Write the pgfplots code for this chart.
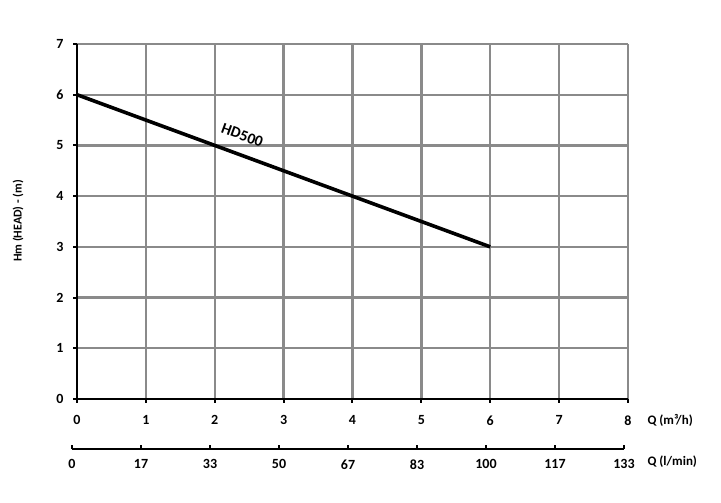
\documentclass[border=0pt]{standalone}
\usepackage{pgfplots}
\pgfplotsset{compat=1.18}
\usepackage{fontspec}
\setmainfont{Carlito}
\definecolor{gridgray}{HTML}{8A8A8A}
\begin{document}
\begin{tikzpicture}[x=1pt,y=1pt]
\path[use as bounding box] (0,0) rectangle (721,503);
\begin{axis}[
  at={(77pt,104pt)}, anchor=south west,
  width=551pt, height=355pt, scale only axis,
  xmin=0, xmax=8, ymin=0, ymax=7,
  xtick={0,...,8}, ytick={0,...,7},
  axis lines=left, axis line style={-, black, line width=2.4pt},
  grid=major, grid style={gridgray, line width=2.4pt},
  tick align=outside, major tick length=4pt,
  tick style={black, line width=2pt},
  /pgf/number format/assume math mode=true,
  ticklabel style={font=\fontsize{14}{16}\selectfont\bfseries},
  xticklabel style={yshift=-9pt},
  yticklabel style={xshift=-6pt},
  xlabel={Q (m³/h)},
  xlabel style={at={(rel axis cs:1,0)}, anchor=west, xshift=16pt, yshift=-21pt, font=\fontsize{13}{15}\selectfont\bfseries},
  clip=false,
]
\addplot[black, line width=3.6pt] coordinates {(0,6) (6,3)};
\node[rotate=-20, font=\fontsize{15.5}{17}\selectfont\bfseries] at (axis cs:2.4,5.2) {HD500};
\end{axis}
\node[rotate=90, font=\fontsize{12}{14}\selectfont\bfseries] at (18,282) {Hm (HEAD) - (m)};
\begin{axis}[
  at={(72pt,54pt)}, anchor=south west,
  width=552pt, height=20pt, scale only axis,
  xmin=0, xmax=133.333, ymin=0, ymax=1,
  axis x line=bottom, axis y line=none,
  axis line style={-, black, line width=2.4pt},
  xtick={0,16.667,33.333,50,66.667,83.333,100,116.667,133.333},
  xticklabels={0,17,33,50,67,83,100,117,133},
  tick align=inside, major tick length=4pt,
  tick style={black, line width=2pt},
  ticklabel style={font=\fontsize{14}{16}\selectfont\bfseries},
  xticklabel style={yshift=-7pt},
  xlabel={Q (l/min)},
  xlabel style={at={(rel axis cs:1,0)}, anchor=west, xshift=20pt, yshift=-13pt, font=\fontsize{13}{15}\selectfont\bfseries},
  clip=false,
]
\end{axis}
\end{tikzpicture}
\end{document}
